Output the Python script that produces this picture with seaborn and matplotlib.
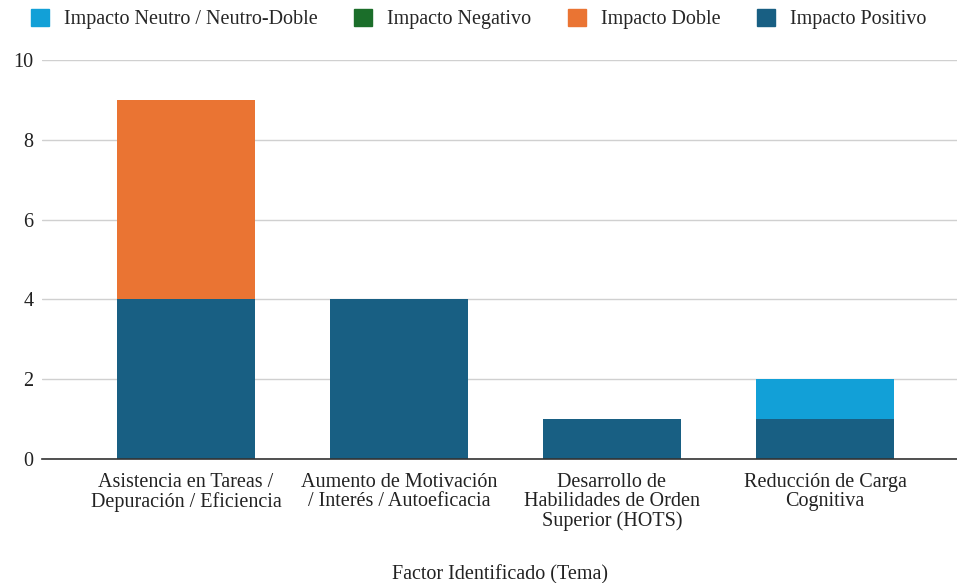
import numpy as np
import pandas as pd
import seaborn as sns
from matplotlib import pyplot as plt
from matplotlib.patches import Patch

categories = ['Asistencia en Tareas /\nDepuración / Eficiencia',
              'Aumento de Motivación\n/ Interés / Autoeficacia',
              'Desarrollo de\nHabilidades de Orden\nSuperior (HOTS)',
              'Reducción de Carga\nCognitiva']
positivo = [4, 4, 1, 1]
doble = [5, 0, 0, 0]
negativo = [0, 0, 0, 0]
neutro = [0, 0, 0, 1]

series_names = ['Impacto Neutro / Neutro-Doble', 'Impacto Negativo', 'Impacto Doble', 'Impacto Positivo']
colors = {'Impacto Neutro / Neutro-Doble': '#12a0d7',
          'Impacto Negativo': '#1b6e2a',
          'Impacto Doble': '#ea7433',
          'Impacto Positivo': '#185f83'}

sns.set_style('white')
plt.rcParams['font.family'] = ['Liberation Serif', 'DejaVu Serif']
fs = 14.5

df = pd.DataFrame({'cat': categories, 'pos': positivo, 'doble': doble,
                   'neg': negativo, 'neu': neutro})
# cumulative stacks, drawn top layer first
df['l1'] = df['pos']
df['l2'] = df['l1'] + df['doble']
df['l3'] = df['l2'] + df['neg']
df['l4'] = df['l3'] + df['neu']

fig = plt.figure(figsize=(9.57, 5.83), dpi=100)
ax = fig.add_axes([42 / 957, 1 - 459 / 583, 1 - 42 / 957, 399 / 583])

for col, name in [('l4', series_names[0]), ('l3', series_names[1]),
                  ('l2', series_names[2]), ('l1', series_names[3])]:
    sns.barplot(data=df, x='cat', y=col, color=colors[name], width=0.648,
                saturation=1, ax=ax, errorbar=None, zorder=3, linewidth=0)

ax.set_ylim(0, 10)
ax.set_xlim(-0.676, 3.62)
ax.set_yticks([0, 2, 4, 6, 8, 10])
ax.yaxis.grid(True, color='#d0d0d0', linewidth=1, zorder=0)
for s in ['top', 'right', 'left']:
    ax.spines[s].set_visible(False)
ax.spines['bottom'].set_color('#333333')
ax.spines['bottom'].set_linewidth(1.2)
ax.spines['bottom'].set_zorder(4)
ax.tick_params(axis='both', length=0, labelsize=fs, colors='#222222')
ax.tick_params(axis='y', pad=6)
ax.tick_params(axis='x', pad=10)
for t in ax.get_xticklabels():
    t.set_linespacing(1.0)
ax.set_ylabel('')
ax.set_xlabel('Factor Identificado (Tema)', fontsize=fs, labelpad=25, color='#222222')

handles = [Patch(facecolor=colors[n], edgecolor=colors[n], label=n) for n in series_names]
fig.legend(handles=handles, loc='center', bbox_to_anchor=(0.5, 1 - 19 / 583), ncol=4,
           frameon=False, fontsize=fs, handlelength=0.9, handleheight=0.9,
           handletextpad=0.75, columnspacing=1.8)

fig.savefig('out.png', dpi=100)
